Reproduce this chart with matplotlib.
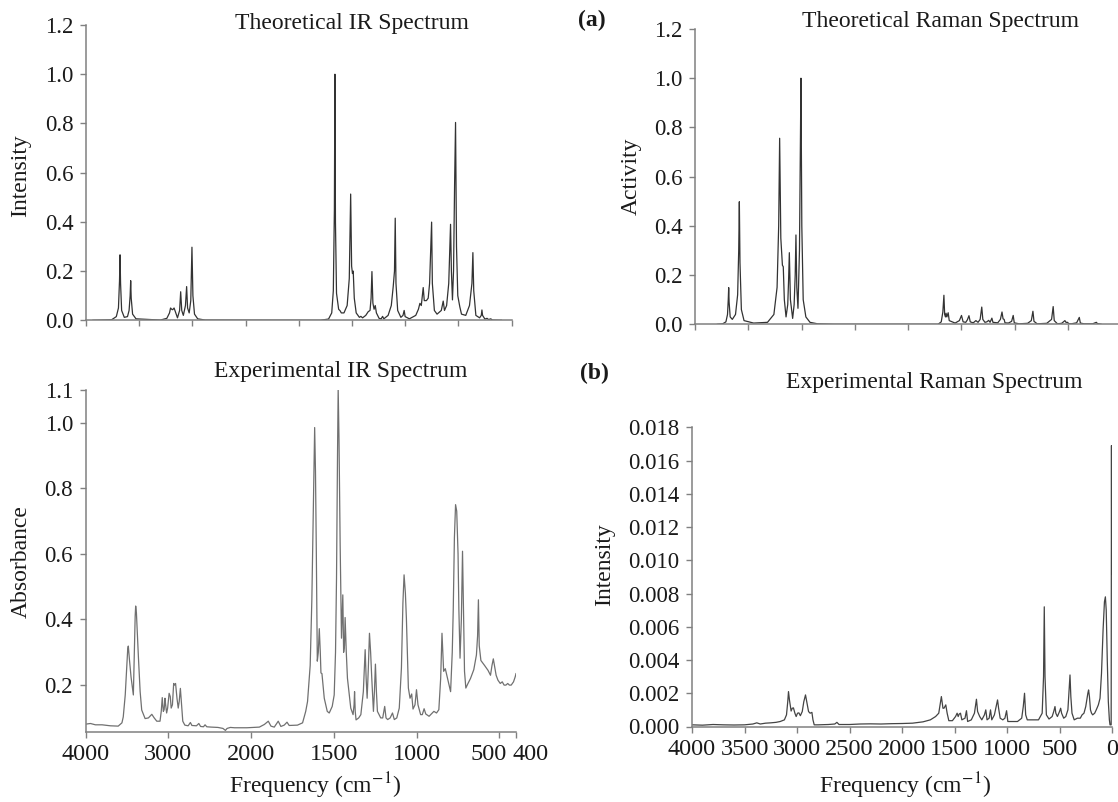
import numpy as np
import matplotlib
matplotlib.use("Agg")
import matplotlib.pyplot as plt
import matplotlib.transforms as mtransforms
from matplotlib.ticker import FormatStrFormatter

plt.rcParams['font.family'] = ['Liberation Serif', 'DejaVu Serif']
plt.rcParams['mathtext.fontset'] = 'stix'

# ---------------- data ----------------
# Theoretical IR spectrum: frequency (cm-1) and normalised intensity
theo_ir_freq = [3935, 3760, 3715, 3695, 3685, 3680, 3675, 3665, 3640, 3610, 3595, 3585, 3580, 3575,
                3562, 3530, 3300, 3240, 3215, 3205, 3195, 3185, 3172, 3160, 3140, 3120, 3110, 3100,
                3085, 3065, 3054, 3045, 3030, 3015, 3004, 2995, 2980, 2950, 2880, 1800, 1720, 1690,
                1675, 1665, 1660, 1655, 1645, 1635, 1625, 1610, 1600, 1575, 1545, 1525, 1512, 1503,
                1495, 1488, 1478, 1460, 1430, 1416, 1400, 1370, 1347, 1330, 1320, 1312, 1303, 1292,
                1281, 1270, 1245, 1225, 1212, 1200, 1160, 1130, 1112, 1100, 1093, 1086, 1070, 1040,
                1020, 1009, 1000, 960, 900, 875, 861, 848, 830, 820, 800, 783, 770, 758, 751, 744,
                725, 700, 660, 642, 630, 610, 590, 573, 565, 555, 545, 535, 526, 517, 505, 486, 470,
                430, 395, 372, 363, 355, 335, 300, 284, 278, 272, 250, 230, 215, 195, 180, 95]
theo_ir_int = [0.0, 0.002, 0.015, 0.05, 0.16, 0.266, 0.15, 0.04, 0.012, 0.015, 0.04, 0.10, 0.161, 0.09,
               0.025, 0.006, 0.001, 0.008, 0.03, 0.05, 0.045, 0.043, 0.05, 0.035, 0.01, 0.04, 0.116, 0.04,
               0.02, 0.06, 0.137, 0.05, 0.03, 0.08, 0.297, 0.10, 0.025, 0.006, 0.001, 0.0, 0.005, 0.03,
               0.12, 0.45, 1.0, 0.40, 0.11, 0.076, 0.045, 0.038, 0.03, 0.03, 0.06, 0.17, 0.513, 0.22,
               0.19, 0.20, 0.09, 0.03, 0.012, 0.016, 0.01, 0.02, 0.035, 0.04, 0.09, 0.198, 0.07, 0.045,
               0.06, 0.03, 0.008, 0.006, 0.016, 0.006, 0.02, 0.06, 0.137, 0.20, 0.415, 0.15, 0.04, 0.012,
               0.02, 0.04, 0.015, 0.006, 0.02, 0.045, 0.069, 0.06, 0.133, 0.08, 0.08, 0.09, 0.15, 0.30,
               0.399, 0.15, 0.04, 0.025, 0.04, 0.078, 0.04, 0.06, 0.15, 0.39, 0.20, 0.083, 0.20, 0.55,
               0.804, 0.30, 0.10, 0.055, 0.025, 0.02, 0.06, 0.15, 0.275, 0.12, 0.02, 0.01, 0.02, 0.042,
               0.02, 0.005, 0.008, 0.003, 0.006, 0.001, 0.0]

# Theoretical Raman spectrum: frequency (cm-1) and normalised activity
theo_ra_freq = [3790, 3740, 3710, 3695, 3688, 3684, 3680, 3670, 3650, 3620, 3600, 3590, 3584, 3578,
                3565, 3540, 3450, 3320, 3260, 3230, 3215, 3206, 3195, 3180, 3172, 3162, 3146, 3130,
                3122, 3115, 3105, 3084, 3070, 3060, 3053, 3045, 3034, 3020, 3012, 3006, 2998, 2985,
                2960, 2921, 2850, 2700, 1720, 1690, 1675, 1665, 1658, 1650, 1645, 1637, 1625, 1615,
                1560, 1520, 1500, 1485, 1460, 1445, 1430, 1418, 1390, 1365, 1345, 1325, 1310, 1300,
                1280, 1262, 1245, 1232, 1215, 1205, 1160, 1135, 1120, 1110, 1100, 1092, 1060, 1030,
                1015, 1005, 960, 880, 845, 830, 820, 790, 700, 655, 640, 630, 600, 560, 530, 520, 505,
                495, 470, 420, 395, 385, 350, 270, 235, 225, 190]
theo_ra_act = [0.0, 0.002, 0.01, 0.04, 0.10, 0.149, 0.09, 0.03, 0.02, 0.04, 0.12, 0.30, 0.498, 0.25,
               0.06, 0.015, 0.005, 0.008, 0.04, 0.15, 0.40, 0.756, 0.35, 0.24, 0.234, 0.10, 0.03, 0.08,
               0.18, 0.291, 0.10, 0.024, 0.08, 0.20, 0.363, 0.15, 0.065, 0.30, 0.70, 1.0, 0.40, 0.10,
               0.03, 0.008, 0.002, 0.0, 0.0, 0.01, 0.05, 0.118, 0.04, 0.03, 0.045, 0.03, 0.047, 0.015,
               0.005, 0.015, 0.036, 0.01, 0.008, 0.018, 0.035, 0.01, 0.006, 0.015, 0.008, 0.02, 0.07, 0.02,
               0.008, 0.01, 0.016, 0.008, 0.025, 0.008, 0.006, 0.02, 0.05, 0.022, 0.02, 0.006, 0.005, 0.012,
               0.036, 0.006, 0.002, 0.004, 0.015, 0.053, 0.012, 0.002, 0.004, 0.02, 0.072, 0.015, 0.002,
               0.004, 0.015, 0.008, 0.008, 0.003, 0.002, 0.006, 0.028, 0.005, 0.002, 0.002, 0.008, 0.003, 0.0]

# Experimental IR spectrum: frequency (cm-1) and absorbance
exp_ir_freq = [4000, 3940, 3880, 3800, 3700, 3605, 3560, 3544, 3520, 3503, 3490, 3483, 3470, 3450,
               3432, 3422, 3410, 3400, 3394, 3385, 3361, 3340, 3321, 3280, 3240, 3199, 3170, 3139,
               3100, 3085, 3073, 3060, 3050, 3040, 3032, 3020, 3008, 2990, 2976, 2965, 2950, 2935,
               2925, 2912, 2895, 2880, 2868, 2854, 2840, 2825, 2800, 2760, 2733, 2715, 2660, 2631,
               2610, 2575, 2556, 2535, 2480, 2400, 2340, 2310, 2290, 2250, 2200, 2120, 2050, 1950,
               1920, 1896, 1880, 1860, 1836, 1820, 1800, 1783, 1770, 1720, 1689, 1670, 1659, 1643,
               1633, 1625, 1616, 1611, 1606, 1600, 1594, 1588, 1582, 1578, 1572, 1558, 1540, 1528,
               1510, 1498, 1490, 1484, 1478, 1474, 1469, 1462, 1454, 1446, 1441, 1436, 1432, 1425,
               1418, 1398, 1384, 1378, 1375, 1371, 1366, 1350, 1337, 1322, 1311, 1305, 1299, 1292,
               1285, 1278, 1271, 1261, 1255, 1249, 1243, 1237, 1217, 1205, 1193, 1185, 1175, 1160,
               1146, 1135, 1120, 1105, 1092, 1083, 1076, 1068, 1062, 1055, 1050, 1040, 1030, 1022,
               1010, 1001, 992, 976, 966, 955, 945, 925, 896, 880, 866, 855, 847, 842, 837, 827, 818,
               805, 795, 785, 779, 772, 765, 758, 750, 745, 738, 730, 723, 718, 711, 703, 690, 675,
               655, 639, 632, 627, 622, 612, 590, 569, 554, 545, 537, 530, 520, 509, 495, 483, 472,
               461, 450, 440, 429, 415, 405, 400]
exp_ir_abs = [0.081, 0.083, 0.079, 0.079, 0.076, 0.075, 0.085, 0.103, 0.17, 0.246, 0.31, 0.319, 0.28, 0.225,
              0.19, 0.17, 0.30, 0.41, 0.441, 0.42, 0.286, 0.18, 0.124, 0.098, 0.10, 0.111, 0.10, 0.09,
              0.09, 0.12, 0.162, 0.12, 0.125, 0.16, 0.14, 0.115, 0.13, 0.175, 0.165, 0.13, 0.14, 0.205,
              0.20, 0.205, 0.16, 0.13, 0.15, 0.19, 0.14, 0.09, 0.078, 0.076, 0.086, 0.077, 0.076, 0.083,
              0.074, 0.073, 0.079, 0.073, 0.072, 0.071, 0.068, 0.062, 0.068, 0.071, 0.07, 0.07, 0.07, 0.072,
              0.08, 0.09, 0.075, 0.072, 0.09, 0.074, 0.078, 0.087, 0.077, 0.078, 0.085, 0.12, 0.15, 0.26,
              0.46, 0.70, 0.985, 0.85, 0.608, 0.273, 0.30, 0.372, 0.30, 0.237, 0.235, 0.16, 0.12, 0.115,
              0.135, 0.17, 0.30, 0.526, 0.90, 1.105, 0.95, 0.628, 0.343, 0.475, 0.30, 0.32, 0.406, 0.30,
              0.221, 0.13, 0.11, 0.14, 0.18, 0.12, 0.094, 0.10, 0.11, 0.18, 0.308, 0.22, 0.16, 0.25,
              0.358, 0.30, 0.22, 0.12, 0.18, 0.264, 0.18, 0.12, 0.10, 0.10, 0.135, 0.10, 0.095, 0.10,
              0.115, 0.095, 0.10, 0.13, 0.252, 0.45, 0.536, 0.48, 0.404, 0.28, 0.191, 0.16, 0.173, 0.127,
              0.14, 0.186, 0.14, 0.11, 0.11, 0.128, 0.112, 0.105, 0.12, 0.115, 0.125, 0.22, 0.358, 0.30,
              0.242, 0.25, 0.23, 0.20, 0.18, 0.30, 0.43, 0.65, 0.75, 0.73, 0.60, 0.43, 0.282, 0.40, 0.608,
              0.45, 0.242, 0.191, 0.205, 0.22, 0.247, 0.292, 0.35, 0.46, 0.32, 0.275, 0.26, 0.245, 0.23,
              0.26, 0.28, 0.26, 0.23, 0.215, 0.205, 0.21, 0.20, 0.20, 0.205, 0.20, 0.20, 0.21, 0.225, 0.235]

# Experimental Raman spectrum: frequency (cm-1) and intensity
exp_ra_freq = [4000, 3900, 3800, 3700, 3600, 3500, 3420, 3383, 3350, 3300, 3250, 3200, 3160, 3120,
               3100, 3088, 3081, 3072, 3056, 3045, 3034, 3020, 3008, 2995, 2982, 2968, 2950, 2935,
               2919, 2905, 2890, 2875, 2858, 2848, 2836, 2800, 2700, 2640, 2620, 2600, 2500, 2400,
               2300, 2200, 2100, 2000, 1900, 1800, 1730, 1680, 1650, 1635, 1625, 1610, 1600, 1583,
               1570, 1554, 1520, 1490, 1475, 1465, 1455, 1443, 1430, 1400, 1386, 1375, 1340, 1310,
               1291, 1280, 1260, 1240, 1215, 1202, 1190, 1170, 1157, 1145, 1120, 1100, 1090, 1080,
               1065, 1040, 1020, 1004, 992, 950, 900, 860, 845, 833, 822, 807, 760, 700, 665, 652,
               645, 638, 625, 600, 570, 555, 543, 535, 520, 500, 489, 480, 460, 440, 420, 408, 400,
               392, 381, 360, 330, 302, 285, 267, 250, 240, 230, 223, 215, 205, 195, 184, 165, 150,
               130, 114, 100, 85, 72, 63, 55, 45, 35, 25, 19, 8, 5, 3, 1]
exp_ra_int = [0.0001, 0.00008, 0.00012, 0.0001, 0.00009, 0.0001, 0.00015, 0.00022, 0.00015, 0.0002,
              0.00022, 0.00025, 0.0003, 0.0004, 0.0007, 0.0015, 0.0021, 0.0016, 0.00093, 0.0011, 0.00112,
              0.0008, 0.0006, 0.0008, 0.00082, 0.00065, 0.0009, 0.0015, 0.0019, 0.0014, 0.0009, 0.0008,
              0.00085, 0.0004, 0.0001, 0.0001, 0.00012, 0.00015, 0.00025, 0.00012, 0.00012, 0.00015,
              0.00016, 0.00015, 0.00017, 0.00018, 0.0002, 0.00028, 0.0004, 0.0006, 0.0008, 0.0014, 0.0018,
              0.0011, 0.0011, 0.0013, 0.0008, 0.00035, 0.00035, 0.0006, 0.0008, 0.0006, 0.00075, 0.0008,
              0.0004, 0.0005, 0.00095, 0.0003, 0.0004, 0.0008, 0.00164, 0.0009, 0.0006, 0.0004, 0.0007,
              0.001, 0.0004, 0.0005, 0.001, 0.0004, 0.0007, 0.0013, 0.0016, 0.0011, 0.0005, 0.0004,
              0.0005, 0.00095, 0.0003, 0.0003, 0.0003, 0.0005, 0.0012, 0.002, 0.0007, 0.0004, 0.0004,
              0.0004, 0.0008, 0.003, 0.0072, 0.003, 0.0007, 0.00045, 0.0006, 0.0009, 0.0012, 0.0008,
              0.0006, 0.0009, 0.0011, 0.0008, 0.0005, 0.0006, 0.001, 0.0022, 0.0031, 0.0018, 0.0008,
              0.0004, 0.0005, 0.0005, 0.0007, 0.0008, 0.0012, 0.0016, 0.002, 0.0022, 0.0018, 0.001,
              0.0008, 0.0007, 0.0008, 0.001, 0.0013, 0.0017, 0.0032, 0.0058, 0.0075, 0.0078, 0.007,
              0.004, 0.0015, 0.0004, 0.0001, 0.0001, 0.0169, 0.0092, 0.0150]

# tick values
theo_yticks = [0.0, 0.2, 0.4, 0.6, 0.8, 1.0, 1.2]
exp_ir_yticks = [0.2, 0.4, 0.6, 0.8, 1.0, 1.1]
exp_ir_xticks = [4000, 3000, 2000, 1500, 1000, 500, 400]
raman_xticks = [4000, 3500, 3000, 2500, 2000, 1500, 1000, 500, 0]
exp_ra_yticks = [0.000, 0.002, 0.004, 0.006, 0.008, 0.010, 0.012, 0.014, 0.016, 0.018]

# ---------------- styling ----------------
FS_YTICK = 16.5
FS_XTICK = 17.5
FS_TEXT = 17
SPINE = '#808080'
TXT = '#1a1a1a'

fig = plt.figure(figsize=(11.18, 8.02), dpi=100)


def style(ax):
    for s in ['top', 'right']:
        ax.spines[s].set_visible(False)
    for s in ['left', 'bottom']:
        ax.spines[s].set_color(SPINE)
        ax.spines[s].set_linewidth(1.1)
    ax.tick_params(direction='out', length=4, width=1.0, color=SPINE,
                   labelcolor=TXT, pad=5)
    ax.tick_params(axis='y', labelsize=FS_YTICK)
    ax.tick_params(axis='x', labelsize=FS_XTICK)
    ax.set_facecolor('none')


# Panel 1: Theoretical IR
ax1 = fig.add_axes([86 / 1118, 1 - 320.3 / 802, 425.5 / 1118, 295.3 / 802])
ax1.plot(theo_ir_freq, theo_ir_int, color='#333333', lw=0.9)
ax1.set_xlim(4000, 0)
ax1.set_ylim(0, 1.2)
ax1.set_xticks(raman_xticks)
ax1.set_xticklabels([])
ax1.set_yticks(theo_yticks)
ax1.yaxis.set_major_formatter(FormatStrFormatter('%.1f'))
style(ax1)

# Panel 2: Theoretical Raman
ax2 = fig.add_axes([695 / 1118, 1 - 324.3 / 802, 426.4 / 1118, 295.3 / 802])
ax2.plot(theo_ra_freq, theo_ra_act, color='#333333', lw=0.9)
ax2.set_xlim(4000, 0)
ax2.set_ylim(0, 1.2)
ax2.set_xticks(raman_xticks)
ax2.set_xticklabels([])
ax2.set_yticks(theo_yticks)
ax2.yaxis.set_major_formatter(FormatStrFormatter('%.1f'))
style(ax2)


# Panel 3: Experimental IR (x scale expanded 2x below 2000 cm-1)
def fwd(x):
    x = np.asarray(x, dtype=float)
    return np.where(x >= 2000, x, 2 * x - 2000)


def inv(g):
    g = np.asarray(g, dtype=float)
    return np.where(g >= 2000, g, (g + 2000) / 2)


ax3 = fig.add_axes([85.5 / 1118, 1 - 731.7 / 802, 430.5 / 1118, (731.7 - 389.8) / 802])
ax3.set_xscale('function', functions=(fwd, inv))
ax3.plot(exp_ir_freq, exp_ir_abs, color='#707070', lw=0.9)
ax3.set_xlim(4000, 400)
ax3.set_ylim(0.058, 1.1)
ax3.set_xticks(exp_ir_xticks)
ax3.set_xticklabels([str(v) for v in exp_ir_xticks])
ax3.minorticks_off()
ax3.set_yticks(exp_ir_yticks)
ax3.yaxis.set_major_formatter(FormatStrFormatter('%.1f'))
style(ax3)
# the crowded "500" and "400" labels are nudged apart, as in the original
for lab, dx in zip(ax3.get_xticklabels()[-2:], [-11, 15]):
    lab.set_transform(lab.get_transform() +
                      mtransforms.ScaledTranslation(dx / 100, 0, fig.dpi_scale_trans))

# Panel 4: Experimental Raman
ax4 = fig.add_axes([692 / 1118, 1 - 726.5 / 802, 420 / 1118, 299.2 / 802])
ax4.plot(exp_ra_freq, exp_ra_int, color='#444444', lw=0.9)
ax4.set_xlim(4000, 0)
ax4.set_ylim(0, 0.018)
ax4.set_xticks(raman_xticks)
ax4.set_xticklabels([str(v) for v in raman_xticks])
ax4.set_yticks(exp_ra_yticks)
ax4.yaxis.set_major_formatter(FormatStrFormatter('%.3f'))
style(ax4)


# ---------------- texts ----------------
def ftext(x, y, s, **kw):
    kw.setdefault('fontsize', FS_TEXT)
    kw.setdefault('color', TXT)
    fig.text(x / 1118, 1 - y / 802, s, ha='center', va='center', **kw)


ftext(352, 23, 'Theoretical IR Spectrum')
ftext(941, 21, 'Theoretical Raman Spectrum')
ftext(341, 372, 'Experimental IR Spectrum')
ftext(934, 383, 'Experimental Raman Spectrum')
ftext(592, 20, '(a)', fontweight='bold')
ftext(594, 373, '(b)', fontweight='bold')

ftext(21, 176, 'Intensity', rotation=90)
ftext(631, 176, 'Activity', rotation=90)
ftext(21, 562, 'Absorbance', rotation=90)
ftext(605, 565, 'Intensity', rotation=90)

ftext(315, 786, r'Frequency (cm$^{-1}$)')
ftext(905, 786, r'Frequency (cm$^{-1}$)')

fig.savefig('out.png', dpi=100)
